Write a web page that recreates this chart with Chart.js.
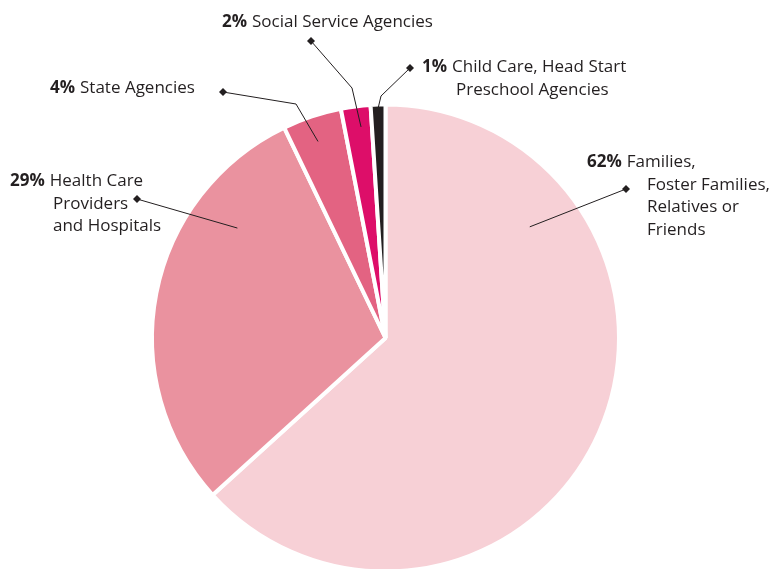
<!DOCTYPE html>
<html>
<head>
<meta charset="utf-8">
<script src="https://cdn.jsdelivr.net/npm/chart.js@4"></script>
<style>
  html, body { margin: 0; padding: 0; background: #fff; overflow: hidden; }
  #wrap { position: relative; width: 773px; height: 600px; }
</style>
</head>
<body>
<div id="wrap"><canvas id="pieChart"></canvas></div>
<script>
const categories = [
  "Families, Foster Families, Relatives or Friends",
  "Health Care Providers and Hospitals",
  "State Agencies",
  "Social Service Agencies",
  "Child Care, Head Start Preschool Agencies",
];
const shares = [62, 29, 4, 2, 1];
const sliceColors = ["#f7d0d6", "#ea929f", "#e36382", "#dd0e69", "#231f20"];

// label text lines per slice (first line gets the bold percent)
const labelLines = [
  ["Families,", "Foster Families,", "Relatives or", "Friends"],
  ["Health Care", "Providers", "and Hospitals"],
  ["State Agencies"],
  ["Social Service Agencies"],
  ["Child Care, Head Start", "Preschool Agencies"],
];

// layout of callouts: text position, indent of wrapped lines, diamond, elbow, anchor inside slice
const callouts = [
  { x: 587, y: 167, indent: 647, dot: [626, 189], elbow: null, t: 0.23, rf: 0.78 },
  { x: 10, y: 186, indent: 53, dot: [137, 199], elbow: null, t: 0.74, rf: 0.79 },
  { x: 50, y: 93, indent: 50, dot: [223, 92], elbow: [296, 104], t: 0.46, rf: 0.89 },
  { x: 222, y: 27, indent: 222, dot: [311, 41], elbow: [352, 88], t: 0.6, rf: 0.91 },
  { x: 422, y: 72, indent: 456, dot: [410, 68], elbow: [381, 96], t: 0.5, rf: 0.985 },
];

const FONT = "'Open Sans', Lato, sans-serif";
const INK = "#231f20";

const calloutPlugin = {
  id: "callouts",
  afterDraw(chart) {
    const ctx = chart.ctx;
    const arcs = chart.getDatasetMeta(0).data;
    ctx.save();
    arcs.forEach((arc, i) => {
      const c = callouts[i];
      const a = arc.startAngle + (arc.endAngle - arc.startAngle) * c.t;
      const r = arc.outerRadius * c.rf;
      const ax = arc.x + Math.cos(a) * r;
      const ay = arc.y + Math.sin(a) * r;

      ctx.strokeStyle = INK;
      ctx.lineWidth = 1;
      ctx.beginPath();
      ctx.moveTo(c.dot[0], c.dot[1]);
      if (c.elbow) ctx.lineTo(c.elbow[0], c.elbow[1]);
      ctx.lineTo(ax, ay);
      ctx.stroke();

      ctx.fillStyle = INK;
      ctx.beginPath();
      ctx.moveTo(c.dot[0], c.dot[1] - 4);
      ctx.lineTo(c.dot[0] + 4, c.dot[1]);
      ctx.lineTo(c.dot[0], c.dot[1] + 4);
      ctx.lineTo(c.dot[0] - 4, c.dot[1]);
      ctx.closePath();
      ctx.fill();

      // text
      ctx.textBaseline = "alphabetic";
      ctx.textAlign = "left";
      const pct = shares[i] + "%";
      ctx.font = "bold 17px " + FONT;
      ctx.fillText(pct, c.x, c.y);
      const w = ctx.measureText(pct).width + 5;
      ctx.font = "17px " + FONT;
      labelLines[i].forEach((line, k) => {
        if (k === 0) ctx.fillText(line, c.x + w, c.y);
        else ctx.fillText(line, c.indent, c.y + k * 22.5);
      });
    });
    ctx.restore();
  },
};

new Chart(document.getElementById("pieChart"), {
  type: "pie",
  data: {
    labels: categories,
    datasets: [
      {
        data: shares,
        backgroundColor: sliceColors,
        borderColor: "#ffffff",
        borderWidth: 4,
      },
    ],
  },
  options: {
    responsive: true,
    maintainAspectRatio: false,
    animation: false,
    layout: { padding: { top: 102, bottom: 26, left: 150, right: 152 } },
    plugins: {
      legend: { display: false },
      tooltip: { enabled: false },
    },
  },
  plugins: [calloutPlugin],
});
</script>
</body>
</html>
